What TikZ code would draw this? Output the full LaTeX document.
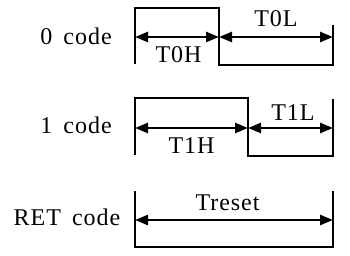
\documentclass[tikz,border=0pt]{standalone}
\usepackage{fontspec}
\setmainfont{Liberation Serif}[LetterSpace=4,WordSpace=1.6]
\usetikzlibrary{arrows.meta}
\begin{document}
\begin{tikzpicture}[x=1pt,y=-1pt,
  wave/.style={line width=2pt,line join=miter},
  dim/.style={line width=2.5pt,{Triangle[length=13pt,width=10pt]}-{Triangle[length=13pt,width=10pt]}},
  lbl/.style={anchor=base,inner sep=0pt,font=\fontsize{24}{28}\selectfont}]
\useasboundingbox (0,0) rectangle (350,256);
% labels
\node[lbl] (c0) at (76,45) {0 code};
\node[lbl] (c1) at (76,134) {1 code};
\node[lbl] (cr) at (67,225) {RET code};
% 0 code waveform
\draw[wave] (135,64) -- (135,8) -- (219,8) -- (219,65) -- (333,65) -- (333,25);
\coordinate (a0) at (135,37);
\coordinate (b0) at (219,37);
\coordinate (d0) at (333,37);
\draw[dim] (a0) -- (b0);
\draw[dim] (b0) -- (d0);
\node[lbl] (t0h) at (178.5,63) {T0H};
\node[lbl] (t0l) at (276,27) {T0L};
% 1 code waveform
\draw[wave] (135,155) -- (135,98) -- (248,98) -- (248,156) -- (333,156) -- (333,99);
\coordinate (a1) at (135,128);
\coordinate (b1) at (248,128);
\coordinate (d1) at (333,128);
\draw[dim] (a1) -- (b1);
\draw[dim] (b1) -- (d1);
\node[lbl] (t1h) at (191.5,154) {T1H};
\node[lbl] (t1l) at (293,121) {T1L};
% RET code
\draw[wave] (135,191) -- (135,247) -- (333,247) -- (333,191);
\coordinate (ar) at (135,220);
\coordinate (dr) at (333,220);
\draw[dim] (ar) -- (dr);
\node[lbl] (tr) at (227.5,211) {Treset};
\end{tikzpicture}
\end{document}
